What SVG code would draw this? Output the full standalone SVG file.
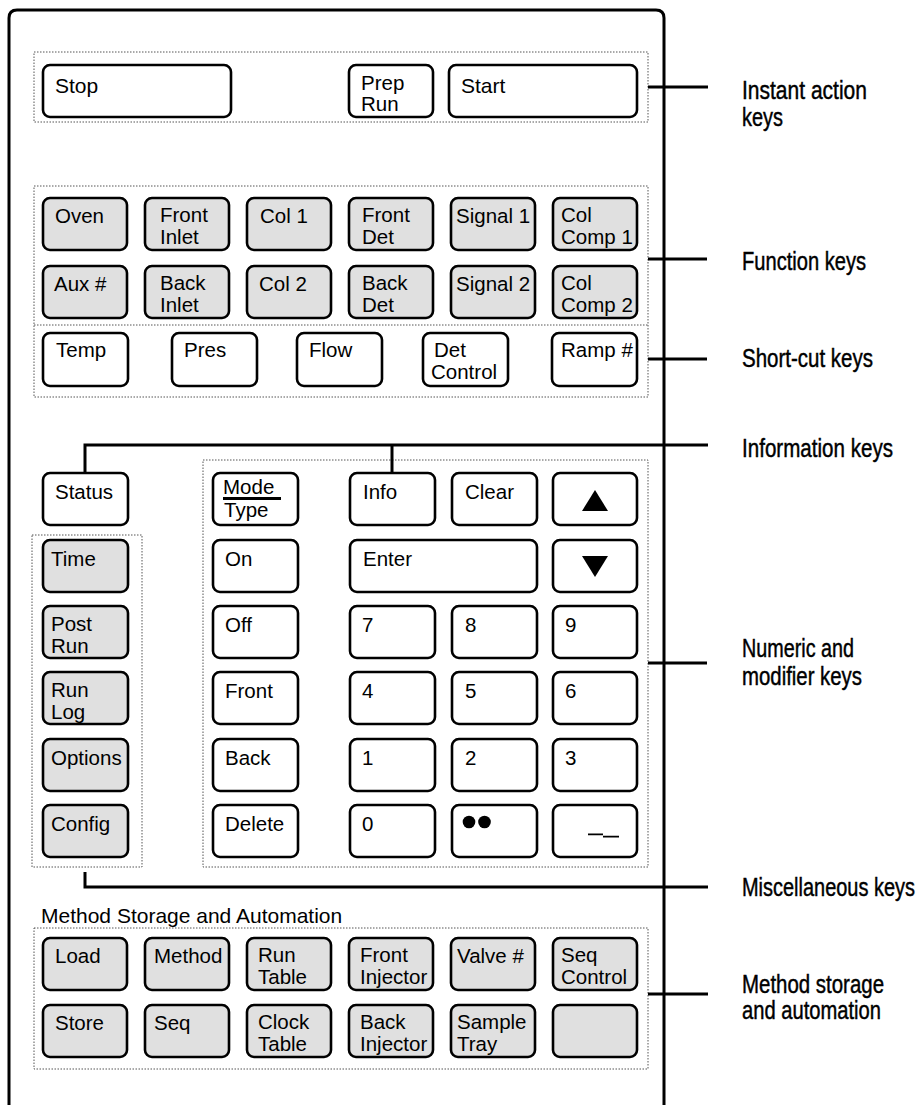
<svg xmlns="http://www.w3.org/2000/svg" width="919" height="1105" viewBox="0 0 919 1105">
<defs>
<style>
.k{fill:#fff;stroke:#000;stroke-width:2.6}
.g{fill:#e0e0e0;stroke:#000;stroke-width:2.6}
.t{font-family:"Liberation Sans",Arial,sans-serif;font-size:20.5px;fill:#000}
.tb{font-family:"Liberation Sans",Arial,sans-serif;font-size:21px;fill:#000}
.lbl{font-family:"Liberation Sans",Arial,sans-serif;font-size:20px;fill:#000;stroke:#000;stroke-width:0.35}
.dot{fill:none;stroke:#555;stroke-width:1;stroke-dasharray:1.5 1.5}
.ln{fill:none;stroke:#000;stroke-width:3}
</style>
</defs>
<rect width="919" height="1105" fill="#fff"/>
<path id="panel" d="M9,1110 V18 Q9,10 17,10 H656 Q664,10 664,18 V1110" class="ln"/>

<g id="groups">
<rect class="dot" x="34" y="52" width="614" height="70"/>
<rect class="dot" x="34" y="186" width="614" height="211"/>
<line class="dot" x1="34" y1="325" x2="648" y2="325"/>
<rect class="dot" x="203" y="460" width="445" height="407"/>
<rect class="dot" x="32" y="535" width="110" height="332"/>
<rect class="dot" x="34" y="928" width="614" height="141"/>
<text class="tb" x="41" y="923">Method Storage and Automation</text>
</g>

<g id="connectors">
<path class="ln" d="M648,87 H708"/>
<path class="ln" d="M648,259 H707"/>
<path class="ln" d="M648,359 H707"/>
<path class="ln" d="M85,473 V445 H708"/>
<path class="ln" d="M392,445 V473"/>
<path class="ln" d="M648,663 H707"/>
<path class="ln" d="M85,872 V887 H708"/>
<path class="ln" d="M648,994 H708"/>
</g>

<g id="labels">
<text class="lbl" transform="translate(742,99) scale(1,1.25)" x="0" y="0" textLength="125" lengthAdjust="spacingAndGlyphs">Instant action</text>
<text class="lbl" transform="translate(742,126) scale(1,1.25)" x="0" y="0" textLength="41" lengthAdjust="spacingAndGlyphs">keys</text>
<text class="lbl" transform="translate(742,270) scale(1,1.25)" x="0" y="0" textLength="124" lengthAdjust="spacingAndGlyphs">Function keys</text>
<text class="lbl" transform="translate(742,367) scale(1,1.25)" x="0" y="0" textLength="131" lengthAdjust="spacingAndGlyphs">Short-cut keys</text>
<text class="lbl" transform="translate(742,457) scale(1,1.25)" x="0" y="0" textLength="151" lengthAdjust="spacingAndGlyphs">Information keys</text>
<text class="lbl" transform="translate(742,657) scale(1,1.25)" x="0" y="0" textLength="112" lengthAdjust="spacingAndGlyphs">Numeric and</text>
<text class="lbl" transform="translate(742,685) scale(1,1.25)" x="0" y="0" textLength="120" lengthAdjust="spacingAndGlyphs">modifier keys</text>
<text class="lbl" transform="translate(742,896) scale(1,1.25)" x="0" y="0" textLength="173" lengthAdjust="spacingAndGlyphs">Miscellaneous keys</text>
<text class="lbl" transform="translate(742,993) scale(1,1.25)" x="0" y="0" textLength="142" lengthAdjust="spacingAndGlyphs">Method storage</text>
<text class="lbl" transform="translate(742,1019) scale(1,1.25)" x="0" y="0" textLength="139" lengthAdjust="spacingAndGlyphs">and automation</text>
</g>

<!-- Instant action keys -->
<g id="key-stop"><rect class="k" x="43" y="65" width="188" height="52" rx="7"/><text class="tb" x="55" y="93">Stop</text></g>
<g id="key-preprun"><rect class="k" x="349" y="65" width="84" height="52" rx="7"/><text class="t"><tspan x="361" y="90">Prep</tspan><tspan x="361" y="111">Run</tspan></text></g>
<g id="key-start"><rect class="k" x="449" y="65" width="188" height="52" rx="7"/><text class="tb" x="461" y="93">Start</text></g>

<!-- Function keys -->
<g id="key-oven"><rect class="g" x="43" y="198" width="84" height="52" rx="7"/><text class="t" x="55" y="223">Oven</text></g>
<g id="key-frontinlet"><rect class="g" x="145" y="198" width="84" height="52" rx="7"/><text class="t"><tspan x="160" y="222">Front</tspan><tspan x="160" y="244">Inlet</tspan></text></g>
<g id="key-col1"><rect class="g" x="247" y="198" width="84" height="52" rx="7"/><text class="t" x="260" y="223">Col 1</text></g>
<g id="key-frontdet"><rect class="g" x="349" y="198" width="84" height="52" rx="7"/><text class="t"><tspan x="362" y="222">Front</tspan><tspan x="362" y="244">Det</tspan></text></g>
<g id="key-signal1"><rect class="g" x="451" y="198" width="84" height="52" rx="7"/><text class="t" x="456" y="223">Signal 1</text></g>
<g id="key-colcomp1"><rect class="g" x="553" y="198" width="84" height="52" rx="7"/><text class="t"><tspan x="561" y="222">Col</tspan><tspan x="561" y="244">Comp 1</tspan></text></g>

<g id="key-aux"><rect class="g" x="43" y="266" width="84" height="52" rx="7"/><text class="t" x="54" y="291">Aux #</text></g>
<g id="key-backinlet"><rect class="g" x="145" y="266" width="84" height="52" rx="7"/><text class="t"><tspan x="160" y="290">Back</tspan><tspan x="160" y="312">Inlet</tspan></text></g>
<g id="key-col2"><rect class="g" x="247" y="266" width="84" height="52" rx="7"/><text class="t" x="259" y="291">Col 2</text></g>
<g id="key-backdet"><rect class="g" x="349" y="266" width="84" height="52" rx="7"/><text class="t"><tspan x="362" y="290">Back</tspan><tspan x="362" y="312">Det</tspan></text></g>
<g id="key-signal2"><rect class="g" x="451" y="266" width="84" height="52" rx="7"/><text class="t" x="456" y="291">Signal 2</text></g>
<g id="key-colcomp2"><rect class="g" x="553" y="266" width="84" height="52" rx="7"/><text class="t"><tspan x="561" y="290">Col</tspan><tspan x="561" y="312">Comp 2</tspan></text></g>

<!-- Short-cut keys -->
<g id="key-temp"><rect class="k" x="43" y="333" width="85" height="53" rx="7"/><text class="t" x="56" y="357">Temp</text></g>
<g id="key-pres"><rect class="k" x="172" y="333" width="85" height="53" rx="7"/><text class="t" x="184" y="357">Pres</text></g>
<g id="key-flow"><rect class="k" x="297" y="333" width="85" height="53" rx="7"/><text class="t" x="309" y="357">Flow</text></g>
<g id="key-detcontrol"><rect class="k" x="423" y="333" width="85" height="53" rx="7"/><text class="t"><tspan x="434" y="357">Det</tspan><tspan x="431" y="379">Control</tspan></text></g>
<g id="key-ramp"><rect class="k" x="552" y="333" width="85" height="53" rx="7"/><text class="t" x="561" y="357">Ramp #</text></g>

<!-- Information / status -->
<g id="key-status"><rect class="k" x="43" y="473" width="85" height="52" rx="7"/><text class="t" x="55" y="499">Status</text></g>

<!-- Misc left column -->
<g id="key-time"><rect class="g" x="43" y="540" width="85" height="52" rx="7"/><text class="t" x="51" y="566">Time</text></g>
<g id="key-postrun"><rect class="g" x="43" y="606" width="85" height="52" rx="7"/><text class="t"><tspan x="51" y="631">Post</tspan><tspan x="51" y="653">Run</tspan></text></g>
<g id="key-runlog"><rect class="g" x="43" y="672" width="85" height="52" rx="7"/><text class="t"><tspan x="51" y="697">Run</tspan><tspan x="51" y="719">Log</tspan></text></g>
<g id="key-options"><rect class="g" x="43" y="739" width="85" height="52" rx="7"/><text class="t" x="51" y="765">Options</text></g>
<g id="key-config"><rect class="g" x="43" y="805" width="85" height="52" rx="7"/><text class="t" x="51" y="831">Config</text></g>

<!-- Numeric and modifier keys -->
<g id="key-modetype"><rect class="k" x="213" y="473" width="85" height="52" rx="7"/><text class="t"><tspan x="223" y="494">Mode</tspan><tspan x="224" y="517">Type</tspan></text><line x1="223" y1="498.5" x2="281" y2="498.5" stroke="#000" stroke-width="3"/></g>
<g id="key-info"><rect class="k" x="350" y="473" width="85" height="52" rx="7"/><text class="t" x="363" y="499">Info</text></g>
<g id="key-clear"><rect class="k" x="452" y="473" width="85" height="52" rx="7"/><text class="t" x="465" y="499">Clear</text></g>
<g id="key-up"><rect class="k" x="553" y="473" width="84" height="52" rx="7"/><polygon points="595,490 608,511 582,511" fill="#000"/></g>

<g id="key-on"><rect class="k" x="213" y="540" width="85" height="52" rx="7"/><text class="t" x="225" y="566">On</text></g>
<g id="key-enter"><rect class="k" x="350" y="540" width="187" height="52" rx="7"/><text class="t" x="363" y="566">Enter</text></g>
<g id="key-down"><rect class="k" x="553" y="540" width="84" height="52" rx="7"/><polygon points="582,556 608,556 595,577" fill="#000"/></g>

<g id="key-off"><rect class="k" x="213" y="606" width="85" height="52" rx="7"/><text class="t" x="225" y="632">Off</text></g>
<g id="key-7"><rect class="k" x="350" y="606" width="85" height="52" rx="7"/><text class="t" x="362" y="632">7</text></g>
<g id="key-8"><rect class="k" x="452" y="606" width="85" height="52" rx="7"/><text class="t" x="465" y="632">8</text></g>
<g id="key-9"><rect class="k" x="553" y="606" width="84" height="52" rx="7"/><text class="t" x="565" y="632">9</text></g>

<g id="key-front"><rect class="k" x="213" y="672" width="85" height="52" rx="7"/><text class="t" x="225" y="698">Front</text></g>
<g id="key-4"><rect class="k" x="350" y="672" width="85" height="52" rx="7"/><text class="t" x="362" y="698">4</text></g>
<g id="key-5"><rect class="k" x="452" y="672" width="85" height="52" rx="7"/><text class="t" x="465" y="698">5</text></g>
<g id="key-6"><rect class="k" x="553" y="672" width="84" height="52" rx="7"/><text class="t" x="565" y="698">6</text></g>

<g id="key-back"><rect class="k" x="213" y="739" width="85" height="52" rx="7"/><text class="t" x="225" y="765">Back</text></g>
<g id="key-1"><rect class="k" x="350" y="739" width="85" height="52" rx="7"/><text class="t" x="362" y="765">1</text></g>
<g id="key-2"><rect class="k" x="452" y="739" width="85" height="52" rx="7"/><text class="t" x="465" y="765">2</text></g>
<g id="key-3"><rect class="k" x="553" y="739" width="84" height="52" rx="7"/><text class="t" x="565" y="765">3</text></g>

<g id="key-delete"><rect class="k" x="213" y="805" width="85" height="52" rx="7"/><text class="t" x="225" y="831">Delete</text></g>
<g id="key-0"><rect class="k" x="350" y="805" width="85" height="52" rx="7"/><text class="t" x="362" y="831">0</text></g>
<g id="key-dots"><rect class="k" x="452" y="805" width="85" height="52" rx="7"/><circle cx="469" cy="822" r="6.3" fill="#000"/><circle cx="484.5" cy="822" r="6.3" fill="#000"/></g>
<g id="key-minus"><rect class="k" x="553" y="805" width="84" height="52" rx="7"/><path d="M588,834.3 H603 M603,836.7 H619" stroke="#000" stroke-width="1.8"/></g>

<!-- Method storage and automation -->
<g id="key-load"><rect class="g" x="43" y="938" width="84" height="52" rx="7"/><text class="t" x="55" y="963">Load</text></g>
<g id="key-method"><rect class="g" x="145" y="938" width="84" height="52" rx="7"/><text class="t" x="154" y="963">Method</text></g>
<g id="key-runtable"><rect class="g" x="247" y="938" width="84" height="52" rx="7"/><text class="t"><tspan x="258" y="962">Run</tspan><tspan x="258" y="984">Table</tspan></text></g>
<g id="key-frontinjector"><rect class="g" x="349" y="938" width="84" height="52" rx="7"/><text class="t"><tspan x="360" y="962">Front</tspan><tspan x="360" y="984">Injector</tspan></text></g>
<g id="key-valve"><rect class="g" x="451" y="938" width="84" height="52" rx="7"/><text class="t" x="457" y="963">Valve #</text></g>
<g id="key-seqcontrol"><rect class="g" x="553" y="938" width="84" height="52" rx="7"/><text class="t"><tspan x="561" y="962">Seq</tspan><tspan x="561" y="984">Control</tspan></text></g>

<g id="key-store"><rect class="g" x="43" y="1005" width="84" height="52" rx="7"/><text class="t" x="55" y="1030">Store</text></g>
<g id="key-seq"><rect class="g" x="145" y="1005" width="84" height="52" rx="7"/><text class="t" x="154" y="1030">Seq</text></g>
<g id="key-clocktable"><rect class="g" x="247" y="1005" width="84" height="52" rx="7"/><text class="t"><tspan x="258" y="1029">Clock</tspan><tspan x="258" y="1051">Table</tspan></text></g>
<g id="key-backinjector"><rect class="g" x="349" y="1005" width="84" height="52" rx="7"/><text class="t"><tspan x="360" y="1029">Back</tspan><tspan x="360" y="1051">Injector</tspan></text></g>
<g id="key-sampletray"><rect class="g" x="451" y="1005" width="84" height="52" rx="7"/><text class="t"><tspan x="457" y="1029">Sample</tspan><tspan x="457" y="1051">Tray</tspan></text></g>
<g id="key-blank"><rect class="g" x="553" y="1005" width="84" height="52" rx="7"/></g>
</svg>
